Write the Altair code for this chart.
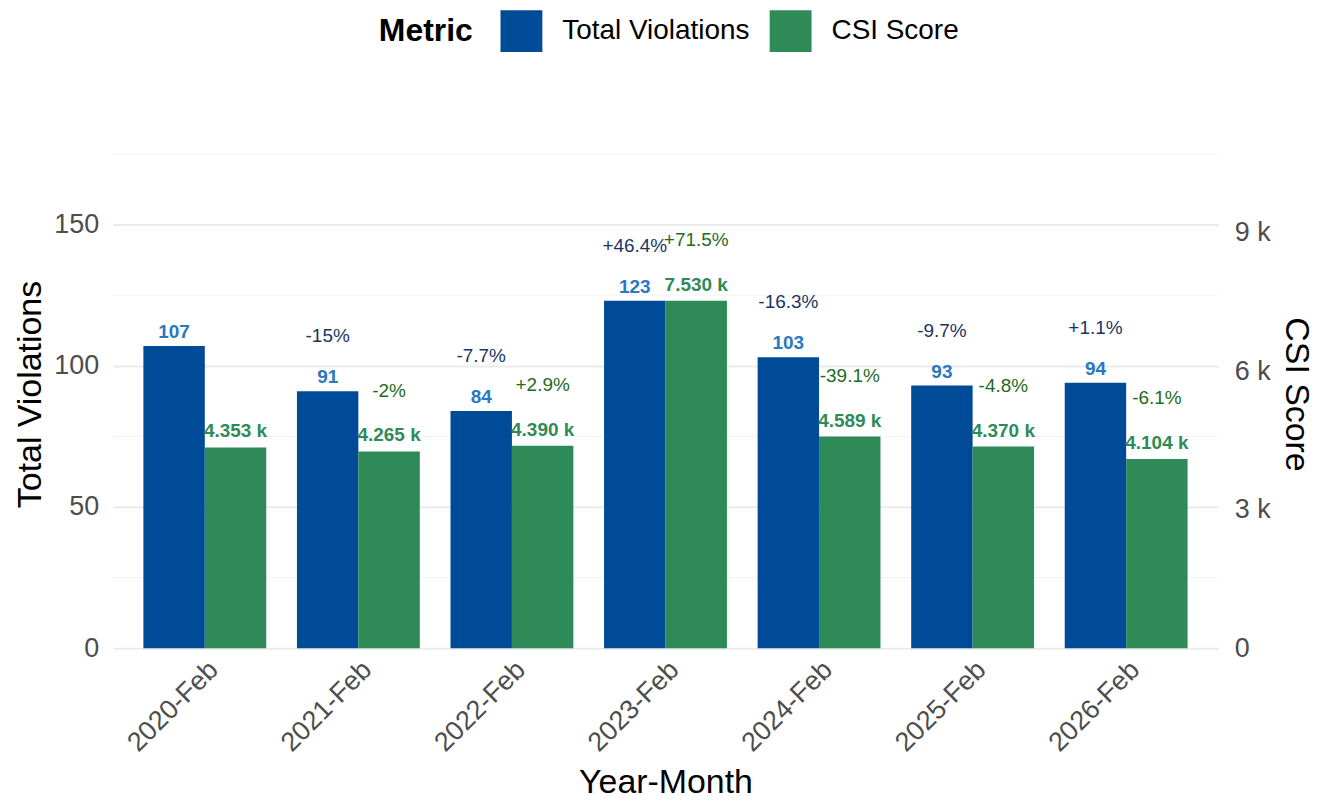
import altair as alt
import pandas as pd

years = ["2020-Feb", "2021-Feb", "2022-Feb", "2023-Feb", "2024-Feb", "2025-Feb", "2026-Feb"]
violations = [107, 91, 84, 123, 103, 93, 94]
csi = [4353, 4265, 4390, 7530, 4589, 4370, 4104]
viol_pct = ["", "-15%", "-7.7%", "+46.4%", "-16.3%", "-9.7%", "+1.1%"]
csi_pct = ["", "-2%", "+2.9%", "+71.5%", "-39.1%", "-4.8%", "-6.1%"]
metrics = ["Total Violations", "CSI Score"]
minor_grid = [25, 75, 125, 175]
major_grid = [0, 50, 100, 150]
right_ticks = [0, 3000, 6000, 9000]

BLUE = "#004B97"
GREEN = "#2E8B57"
FONT = "Liberation Sans"

k = max(csi) / max(violations)
ymax = 180

rows = []
for i, yr in enumerate(years):
    rows.append({"Year": yr, "Metric": metrics[0], "y": violations[i],
                 "label": str(violations[i]), "pct": viol_pct[i], "csi": None})
    rows.append({"Year": yr, "Metric": metrics[1], "y": csi[i] / k,
                 "label": f"{csi[i] / 1000:.3f} k", "pct": csi_pct[i], "csi": csi[i]})
df = pd.DataFrame(rows)
grid_df = pd.DataFrame({"y": minor_grid})

xenc = alt.X("Year:N", sort=years, title="Year-Month",
             scale=alt.Scale(paddingInner=0.2, paddingOuter=0.2),
             axis=alt.Axis(labelAngle=-45, labelAlign="right", labelBaseline="top",
                           labelFontSize=27, labelColor="#4D4D4D", labelFont=FONT,
                           labelPadding=8, ticks=False, domain=False, grid=False,
                           titleFontSize=34, titleFont=FONT, titleColor="black",
                           titleFontWeight="normal", titlePadding=10))
xoff = alt.XOffset("Metric:N", sort=metrics, scale=alt.Scale(domain=metrics, paddingInner=0, paddingOuter=0))
yenc = alt.Y("y:Q", title="Total Violations",
             scale=alt.Scale(domain=[0, ymax], nice=False, zero=True),
             axis=alt.Axis(values=major_grid, grid=True, gridColor="#EBEBEB", gridWidth=2,
                           ticks=False, domain=False, labelFontSize=27, labelColor="#4D4D4D",
                           labelFont=FONT, labelPadding=14, titleFontSize=34, titleFont=FONT,
                           titleColor="black", titleFontWeight="normal", titlePadding=6))

minor = alt.Chart(grid_df).mark_rule(color="#F2F2F2", strokeWidth=1).encode(y=yenc)

bars = alt.Chart(df).mark_bar().encode(
    x=xenc, xOffset=xoff, y=yenc,
    color=alt.Color("Metric:N", sort=metrics,
                    scale=alt.Scale(domain=metrics, range=[BLUE, GREEN]),
                    legend=alt.Legend(title="Metric", orient="none", legendX=267, legendY=-130,
                                      direction="horizontal", titleOrient="left",
                                      symbolType="square", symbolSize=1764, symbolStrokeWidth=0,
                                      labelFontSize=28, labelFont=FONT, labelColor="black",
                                      labelOffset=20, columnPadding=20, labelLimit=500,
                                      titleFontSize=32, titleFont=FONT, titleFontWeight="bold",
                                      titleColor="black", titlePadding=27, titleLimit=500)),
)

def txt(metric, field, color, bold, dy, size):
    return alt.Chart(df).transform_filter(alt.datum.Metric == metric).mark_text(
        color=color, fontWeight="bold" if bold else "normal", dy=dy, fontSize=size,
        font=FONT, baseline="middle", align="center"
    ).encode(x=xenc, xOffset=xoff, y=yenc, text=f"{field}:N")

t1 = txt(metrics[0], "label", "#2A78BF", True, -14, 19)
t2 = txt(metrics[1], "label", GREEN, True, -16, 19)
t3 = txt(metrics[0], "pct", "#1B3563", False, -55, 19)
t4 = txt(metrics[1], "pct", "#1E6B1E", False, -61, 19)

left = alt.layer(minor, bars, t1, t2, t3, t4)

right = alt.Chart(df).transform_filter(alt.datum.Metric == metrics[1]).mark_bar(opacity=0).encode(
    x=xenc, xOffset=xoff,
    y=alt.Y("csi:Q", title="CSI Score",
            scale=alt.Scale(domain=[0, ymax * k], nice=False, zero=True),
            axis=alt.Axis(orient="right", values=right_ticks, grid=False, ticks=False, domain=False,
                          labelExpr="datum.value == 0 ? '0' : (datum.value / 1000) + ' k'",
                          labelFontSize=27, labelColor="#4D4D4D", labelFont=FONT, labelPadding=16,
                          titleFontSize=34, titleFont=FONT, titleColor="black",
                          titleFontWeight="normal", titlePadding=8)),
)

chart = alt.layer(left, right).resolve_scale(y="independent").properties(
    width=1109, height=510,
    padding={"left": 105, "top": 131, "right": 100, "bottom": 150},
    autosize="none",
    background="white",
).configure_view(strokeWidth=0, stroke="transparent")

chart.save("out.html", embed_options={"renderer": "svg", "actions": False})
